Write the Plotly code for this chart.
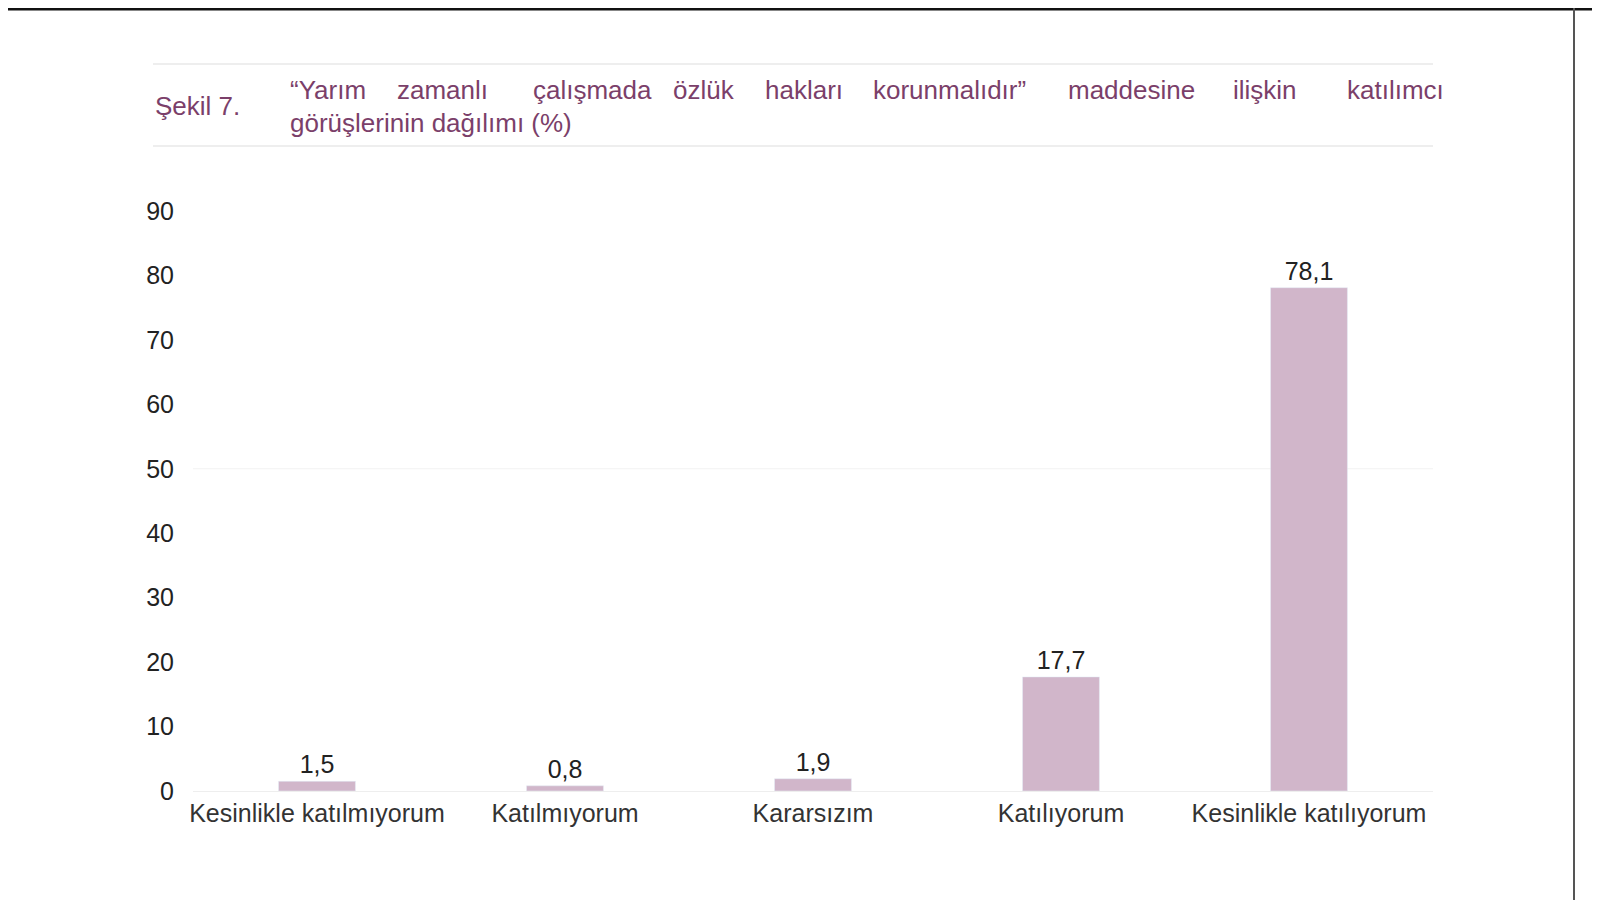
import plotly.graph_objects as go

categories = ["Kesinlikle katılmıyorum", "Katılmıyorum", "Kararsızım", "Katılıyorum", "Kesinlikle katılıyorum"]
values = [1.5, 0.8, 1.9, 17.7, 78.1]
labels = ["1,5", "0,8", "1,9", "17,7", "78,1"]
title_words = ["“Yarım", "zamanlı", "çalışmada", "özlük", "hakları", "korunmalıdır”", "maddesine", "ilişkin", "katılımcı"]
word_x = [280, 387, 523, 663, 755, 863, 1058, 1223, 1337]

FONT = "Liberation Sans Narrow, Liberation Sans, Arial"
TFONT = "Liberation Sans, Arial"
PURPLE = "#7b3f6a"

W, H = 1600, 900
L, R, T, B = 185, 175, 203, 117
PW, PH = W - L - R, H - T - B
def px(x): return (x - L) / PW
def py(y): return (H - B - y) / PH

fig = go.Figure(go.Bar(
    x=categories, y=values, text=labels, textposition="outside",
    textfont=dict(size=25, color="#222", family=FONT),
    marker_color="#d1b6ca", width=0.31, cliponaxis=False))

ann = [dict(x=px(145), y=py(98), xref="paper", yref="paper", xanchor="left", yanchor="middle",
            text="Şekil 7.", showarrow=False, font=dict(size=26, color=PURPLE, family=TFONT))]
for w, x in zip(title_words, word_x):
    ann.append(dict(x=px(x), y=py(82), xref="paper", yref="paper", xanchor="left", yanchor="middle",
                    text=w, showarrow=False, font=dict(size=26, color=PURPLE, family=TFONT)))
ann.append(dict(x=px(280), y=py(115), xref="paper", yref="paper", xanchor="left", yanchor="middle",
                text="görüşlerinin dağılımı (%)", showarrow=False, font=dict(size=26, color=PURPLE, family=TFONT)))

shapes = [
    dict(type="line", xref="paper", yref="paper", x0=px(145), x1=px(1425), y0=py(56), y1=py(56), line=dict(color="#eeeeee", width=2)),
    dict(type="line", xref="paper", yref="paper", x0=px(145), x1=px(1425), y0=py(138), y1=py(138), line=dict(color="#eeeeee", width=2)),
    dict(type="line", xref="paper", yref="paper", x0=px(0), x1=px(W), y0=py(1), y1=py(1), line=dict(color="#111", width=3)),
    dict(type="line", xref="paper", yref="paper", x0=px(1566), x1=px(1566), y0=py(0), y1=py(H), line=dict(color="#555", width=2)),
]

fig.update_layout(
    width=W, height=H, plot_bgcolor="white", paper_bgcolor="white",
    margin=dict(l=L, r=R, t=T, b=B), showlegend=False,
    annotations=ann, shapes=shapes, bargap=0.69,
    xaxis=dict(tickfont=dict(size=25, color="#333", family=FONT), showline=True, linecolor="#eeeeee", ticks=""),
    yaxis=dict(range=[0, 90], dtick=10, tickfont=dict(size=25, color="#222", family=FONT),
               showgrid=False, zeroline=False, ticklabelstandoff=18),
)
fig.add_hline(y=50, line=dict(color="#f2f2f2", width=1), layer="below")
fig.write_html("out.html")
